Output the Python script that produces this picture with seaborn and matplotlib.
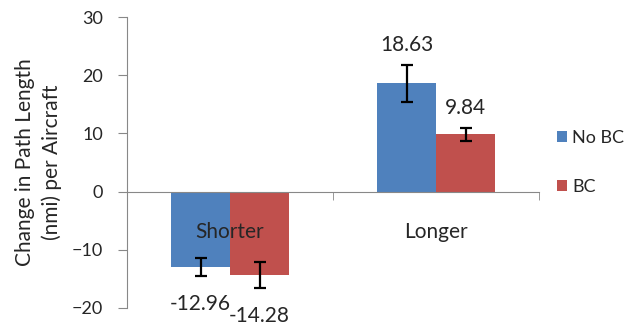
import matplotlib
matplotlib.use("Agg")
import matplotlib.pyplot as plt
import seaborn as sns
import pandas as pd
import numpy as np

# data
categories = ["Shorter", "Longer"]
series = ["No BC", "BC"]
no_bc = [-12.96, 18.63]
bc = [-14.28, 9.84]
no_bc_err = [1.6, 3.2]
bc_err = [2.2, 1.1]

colors = ["#4F81BD", "#C0504D"]

df = pd.DataFrame({
    "Category": categories * 2,
    "Series": [series[0]] * 2 + [series[1]] * 2,
    "Value": no_bc + bc,
    "Err": no_bc_err + bc_err,
})

sns.set_style("white")
plt.rcParams["font.family"] = ["Lato", "DejaVu Sans"]

fig = plt.figure(figsize=(6.26, 3.28), dpi=100)
ax = fig.add_axes([0.203, 0.061, 0.658, 0.887])

sns.barplot(data=df, x="Category", y="Value", hue="Series", order=categories,
            hue_order=series, palette=colors, width=0.573, gap=0,
            errorbar=None, saturation=1, ax=ax, edgecolor="none")

# error bars + value labels on each bar
for patch, (_, row) in zip(ax.patches, df.iterrows()):
    xc = patch.get_x() + patch.get_width() / 2
    v, e = row["Value"], row["Err"]
    ax.errorbar(xc, v, yerr=e, fmt="none", ecolor="black", elinewidth=1.6,
                capsize=4.5, capthick=1.6)
    if v >= 0:
        ax.annotate(f"{v:.2f}", (xc, v + e), xytext=(0, 7), textcoords="offset points",
                    ha="center", va="bottom", fontsize=15, annotation_clip=False)
    else:
        ax.annotate(f"{v:.2f}", (xc, v - e), xytext=(0, -13), textcoords="offset points",
                    ha="center", va="top", fontsize=15, annotation_clip=False)

ax.set_xlim(-0.5, 1.5)
ax.set_ylim(-20, 30)
ax.set_yticks(np.arange(-20, 31, 10))
ax.tick_params(axis="y", which="major", length=6.5, color="#888888", labelsize=13,
               pad=11, direction="out", left=True)

ax.spines["top"].set_visible(False)
ax.spines["right"].set_visible(False)
ax.spines["left"].set_color("#888888")
ax.spines["bottom"].set_color("#888888")
ax.spines["bottom"].set_position(("data", 0))

ax.set_xticks([0, 1])
ax.set_xticklabels(categories)
ax.set_xticks([-0.5, 0.5, 1.5], minor=True)
ax.tick_params(axis="x", which="major", length=0, labelsize=15, pad=22)
ax.tick_params(axis="x", which="minor", length=6, color="#888888", direction="out", bottom=True)
ax.xaxis.set_zorder(10)

ax.set_xlabel("")
ax.set_ylabel("Change in Path Length\n(nmi) per Aircraft", fontsize=15, labelpad=7, linespacing=1.4)

ax.legend(loc="center left", bbox_to_anchor=(0.878, 0.505), bbox_transform=fig.transFigure,
          frameon=False, fontsize=13, handlelength=0.55, handleheight=0.55,
          handletextpad=0.3, labelspacing=1.8, borderaxespad=0)

fig.savefig("out.png", dpi=100)
